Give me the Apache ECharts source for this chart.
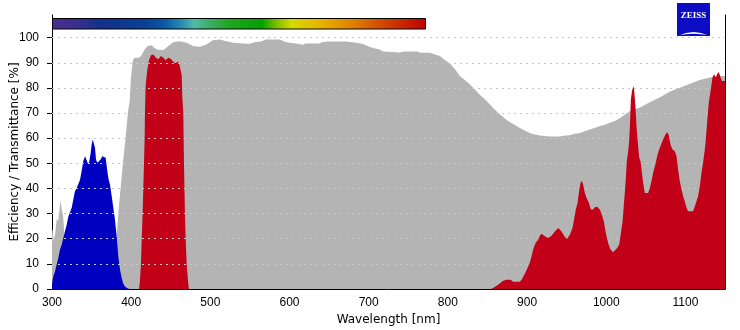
<!DOCTYPE html>
<html><head><meta charset="utf-8">
<script src="https://cdn.jsdelivr.net/npm/echarts@6/dist/echarts.min.js"></script>
<style>html,body{margin:0;padding:0;background:#fff}#c{width:740px;height:330px}</style>
</head><body><div id="c"></div>
<script>
// ---- data ----
const xTicks = [300,400,500,600,700,800,900,1000,1100];
const yTicks = [0,10,20,30,40,50,60,70,80,90,100];
const gridTicks = [10,20,30,40,50,60,70,80,90,100];

const grayNm = [300,301,302,304,306,307.5,309,310.5,312.5,314,316,318,320,330,370,378,381.5,383.7,386.6,389.5,392.9,395.8,398.2,399.7,402,404,410,413,417,421,426,429,433,441,447,453,461,470,478,487,495,503,512,520,529,546,550,556,565,570,588,594,600,608,617,620,637,640,648,671,684,693,695,701.5,708,714,718,729,739,745,762,765,777,784,790,796,802.5,809,815,821.5,828,834,840,847,853,859,866,872,878,885,891,897,903.5,910,916,929,941,948,954,960,967,973,979,986,992,998,1004.5,1011,1017,1030,1042,1055,1068,1080,1093,1106,1118,1131,1143,1150];
const grayVal = [24,23,19,22,28,27,30,35,35,29,20,12,6,3,3,10,20,30,40,50,60,70,75,84,90.7,92,92,93,95.3,96.7,97,96,95.2,95.1,96.7,98.2,98.6,98,96.7,96.4,97.3,99,99.3,98.6,98,97.6,97.6,98.2,98.6,99.3,99.3,98.4,98,97.7,97.2,97.7,97.7,98.1,98.5,98.5,98,97.5,96.8,96.3,95.7,95.3,94.5,94.3,94.1,94.5,94.5,94,94,93.3,92.7,91.1,89.8,87.4,84.7,83.1,81.4,79.4,77.4,75.4,73.4,71.4,69.4,67.8,66.4,65.1,64,63.1,62.1,61.5,61.1,60.7,60.7,61.1,61.2,61.8,62.1,62.8,63.5,64.1,64.8,65.3,66.1,66.8,67.9,70.8,72.1,74.3,76.3,78.5,80.1,81.7,83.1,84.1,84.7,84.7];

const blueNm = [300,301.6,303.8,305.9,308,310.1,312.2,314.3,316.4,318.6,320.6,322.7,324.9,326.9,329,331.2,333.2,335.4,337.5,339.5,341.7,343.8,345.8,347.1,348.9,350.1,351.4,352.7,354.3,355.6,357.2,359.3,361.5,363.5,365.7,367.8,369.1,371.1,373.2,375.4,377.4,379.5,381.7,383.7,385.9,388,390,392.2,395.1,397.2,398];
const blueVal = [2,5,7,9.7,12.3,15.7,17.6,20.3,23,25.6,28.7,28.9,32.3,35.6,38.9,40.2,40.9,43.5,46.9,50.8,52.8,51.2,49.5,50.8,54.2,57.5,59.5,59.5,56.2,51.5,50.2,49.5,51.5,52.8,53.5,52.2,48.8,44.2,41.6,36.9,32.3,27.6,21,13,7.7,4.4,2.1,1,0.3,0,0];

const redANm = [410,411,412.4,413.3,414.5,415.3,416.2,417,417.4,418.3,420.3,422.5,425,427.9,431.3,434.2,437.6,440.5,443.6,446.8,449.9,452.4,455.3,459.5,460.7,463,463.8,464.5,465.8,466.7,467.9,468.8,470.1,472.1,473];
const redAVal = [0,3,10,20,30,40,50,60,70,81,87,91,93,93.3,92,91.4,92.7,92,91,92,91.6,90.7,89.8,90.4,89.6,89.6,85,77,70,50,30,20,10,2,0];

const redBNm = [855,857,863.5,869.8,874.1,879.2,882.5,890.9,893.1,897.2,901.4,903.5,905.7,907.7,910.7,914,916.2,918.3,922.5,926.6,930.9,935.1,939.3,943.6,947.7,950.6,954,957.4,959.5,961.6,963.8,965.4,967.5,969.2,970.8,973,975.1,978,980.6,983.5,985.6,988.5,991.9,994.4,997,999.5,1002.4,1005.4,1008.7,1011.2,1013.8,1016.3,1018,1020.6,1022.6,1024.4,1026,1027.7,1028.9,1029.8,1031.1,1032.7,1034.5,1035.2,1037,1038.3,1040.3,1041.6,1043.3,1044.6,1046.6,1048.7,1052.9,1055.1,1057.2,1059.2,1062.6,1064.3,1066.8,1068.9,1071.8,1074.9,1076.9,1078.7,1081.2,1083.7,1086.6,1088.8,1090.8,1092.9,1095.1,1097.1,1099.2,1101.4,1103.4,1109.7,1111.9,1114,1116,1118.2,1120.3,1122.3,1124.5,1125.4,1127.4,1129.5,1132.1,1134.2,1136.2,1138.4,1140,1142.2,1143.8,1146,1147.6,1150];
const redBVal = [0,0.5,1.7,3.3,3.7,3.7,2.9,2.9,3.7,6.1,9,10.4,13,15.7,18.3,19.6,21.2,22,21,20.3,21.2,22.9,24.3,22.9,20.7,19.9,21.6,24.3,27.9,31.6,34.3,38.2,42.2,43.1,41.6,38.2,36.3,34.3,31.6,31.6,32.5,32.7,31.6,29.6,26.9,22.3,18.3,15.7,14.6,14.6,16.3,17.6,21,26.9,34.9,42.2,50.8,54.8,58.8,64.1,75.4,79.1,80.7,79.4,72.1,64.1,56.8,52.2,50.8,47.5,42.2,38.2,38.2,40.2,42.9,46.2,50.2,52.8,55.5,57.1,59.5,61.5,62.4,61.5,57.5,55.5,54.8,52.8,47.5,42.9,39.6,36.9,34.9,32.3,30.9,30.9,32.9,34.9,36.9,40.9,46.2,50.2,55.5,58.2,66.1,74.1,79.4,84.1,85.4,84.1,85.4,86.3,84.7,82.7,83.4,82.7];

const spectrumStops = [
  [0,'#4a2c92'],[0.07,'#36308e'],[0.13,'#12308a'],[0.25,'#0a4098'],[0.3,'#0a58a6'],
  [0.35,'#2a90b2'],[0.38,'#52baa8'],[0.42,'#3eae6a'],[0.47,'#22a624'],[0.56,'#04a000'],
  [0.6,'#7cbe00'],[0.64,'#d6da00'],[0.72,'#e8b200'],[0.8,'#e08400'],[0.88,'#d24a00'],[1,'#c00000']
];

const pairs = (xs, ys) => xs.map((x, i) => [x, ys[i]]);
const FONT = "'Liberation Sans', Arial, sans-serif";
const NAME_FONT = "'DejaVu Sans', Verdana, sans-serif";

function area(name, xs, ys, color, z) {
  return {
    name, type: 'line', data: pairs(xs, ys), showSymbol: false, symbol: 'none',
    lineStyle: { width: 0 }, areaStyle: { color, opacity: 1 }, itemStyle: { color },
    z, silent: true, animation: false
  };
}

const chart = echarts.init(document.getElementById('c'), null, { renderer: 'canvas' });
chart.setOption({
  animation: false,
  grid: { left: 52, right: 15, top: 15, bottom: 41, containLabel: false, outerBoundsMode: 'none' },
  xAxis: {
    type: 'value', min: 300, max: 1150, interval: 100,
    name: 'Wavelength [nm]', nameLocation: 'middle', nameGap: 25, nameMoveOverlap: false,
    nameTextStyle: { fontFamily: NAME_FONT, fontSize: 12, color: '#000' },
    axisLine: { show: true, lineStyle: { color: '#000', width: 1 } },
    axisTick: { show: true, inside: true, length: 3, customValues: xTicks, lineStyle: { color: '#000' } },
    axisLabel: { customValues: xTicks, formatter: v => String(v), fontFamily: FONT, fontSize: 12, color: '#000', margin: 8 },
    splitLine: { show: false }
  },
  yAxis: [{
    type: 'value', min: 0, max: 109, interval: 10,
    name: 'Efficiency / Transmittance [%]', nameLocation: 'middle', nameGap: 31, nameMoveOverlap: false,
    nameTextStyle: { fontFamily: NAME_FONT, fontSize: 12, color: '#000' },
    axisLine: { show: true, lineStyle: { color: '#000', width: 1 } },
    axisTick: { show: true, length: 5, customValues: yTicks, lineStyle: { color: '#000' } },
    axisLabel: { customValues: yTicks, formatter: v => String(v), fontFamily: FONT, fontSize: 12, color: '#000', margin: 13 },
    splitLine: { show: false }
  }, {
    type: 'value', min: 0, max: 109, position: 'right',
    axisLine: { show: true, lineStyle: { color: '#000', width: 1 } },
    axisTick: { show: false }, axisLabel: { show: false }, splitLine: { show: false }
  }],
  series: [
    area('Transmittance', grayNm, grayVal, '#b4b4b4', 2),
    area('Blue', blueNm, blueVal, '#0000c0', 3),
    area('Red 1', redANm, redAVal, '#c20018', 4),
    area('Red 2', redBNm, redBVal, '#c20018', 5),
    {
      type: 'line', data: [], z: 8, silent: true,
      markLine: {
        silent: true, symbol: ['none', 'none'], animation: false,
        label: { show: false },
        lineStyle: { color: '#c8c8c8', width: 1, type: [2, 4] },
        data: gridTicks.map(v => ({ yAxis: v }))
      }
    }
  ],
  graphic: [
    {
      type: 'rect', z: 20,
      shape: { x: 52.5, y: 18.5, width: 373, height: 10.5 },
      style: {
        fill: new echarts.graphic.LinearGradient(0, 0, 1, 0,
          spectrumStops.map(s => ({ offset: s[0], color: s[1] }))),
        stroke: '#000', lineWidth: 1
      }
    },
    { type: 'rect', z: 20, shape: { x: 677, y: 3, width: 33, height: 33 }, style: { fill: '#0c0cc4' } },
    { type: 'text', z: 21, x: 693.5, y: 16,
      style: { text: 'ZEISS', fill: '#fff', font: "bold 9px 'Liberation Serif', serif", align: 'center', verticalAlign: 'middle' } },
    { type: 'polygon', z: 21,
      shape: { points: [[680,35],[686,33],[693.5,32],[701,33],[707,35],[701,34.2],[693.5,33.8],[686,34.2]] },
      style: { fill: '#fff' } }
  ]
});
</script></body></html>
